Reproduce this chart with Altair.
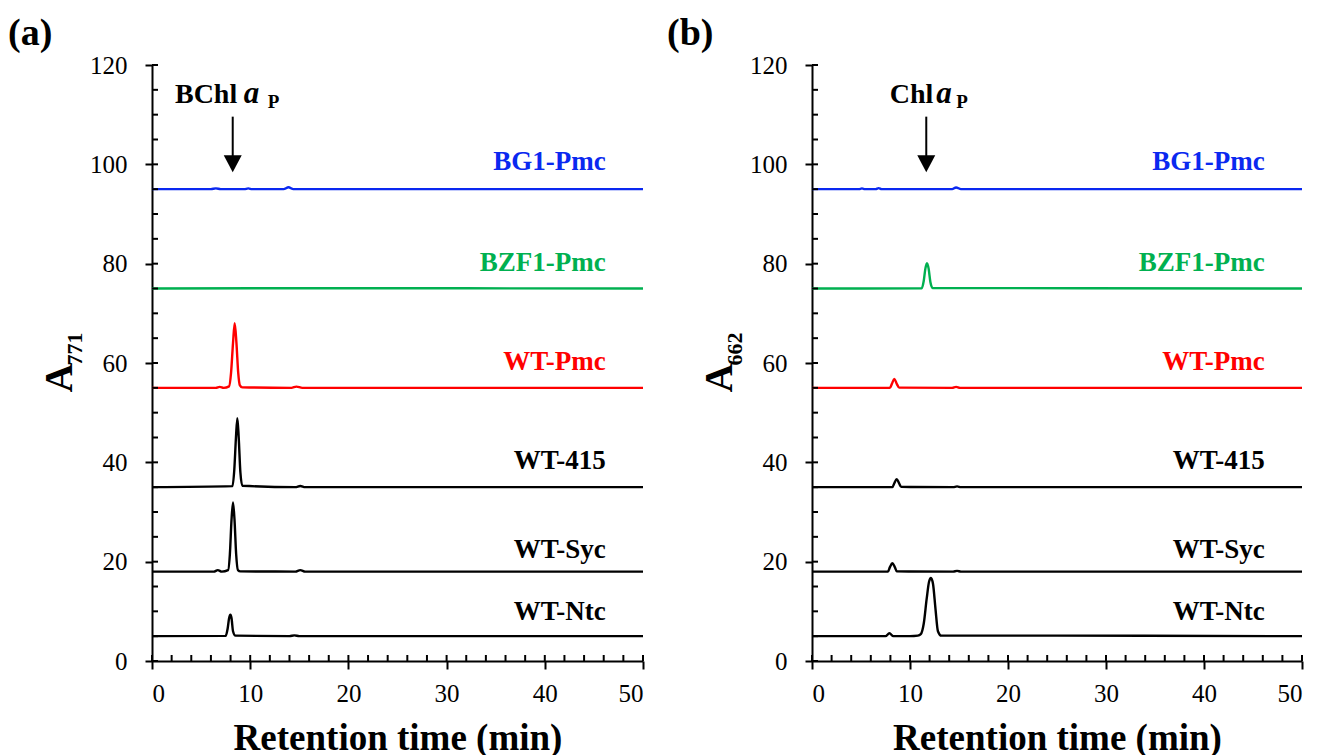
import altair as alt
import pandas as pd

FONT = "Liberation Serif"

series_names = ["BG1-Pmc", "BZF1-Pmc", "WT-Pmc", "WT-415", "WT-Syc", "WT-Ntc"]
series_colors = ["#0a28f0", "#00b050", "#ff0000", "#000000", "#000000", "#000000"]
label_y = [100.5, 80.1, 60.2, 40.2, 22.4, 9.9]
label_x = 46.2

x_ticks = [0, 10, 20, 30, 40, 50]
y_ticks = [0, 20, 40, 60, 80, 100, 120]
x_minor = list(range(0, 51, 2))
y_minor = list(range(0, 121, 5))

# ---------------- panel (a): A771 ----------------
a_bg1_x = [0, 6.0, 6.5, 7.0, 9.4, 9.8, 10.2, 13.4, 13.9, 14.4, 50]
a_bg1_y = [95, 95, 95.15, 95, 95, 95.15, 95, 95, 95.4, 95, 95]
a_bzf_x = [0, 15.0, 50]
a_bzf_y = [75, 75.05, 75]
a_wtp_x = [0, 6.5, 6.9, 7.3, 7.85, 8.05, 8.25, 8.42, 8.6, 8.78, 8.95, 9.2, 14.2, 14.7, 15.3, 50]
a_wtp_y = [55, 55, 55.2, 55, 55.3, 58, 64, 68.0, 64, 58, 55.5, 55.1, 55, 55.25, 55, 55]
a_415_x = [0, 8.2, 8.38, 8.55, 8.69, 8.83, 9.0, 9.2, 14.6, 15.1, 15.6, 50]
a_415_y = [35, 35.2, 38.5, 45, 48.9, 45, 38, 35.3, 35, 35.25, 35, 35]
a_syc_x = [0, 6.3, 6.7, 7.1, 7.75, 7.93, 8.1, 8.25, 8.4, 8.57, 8.75, 9.0, 14.6, 15.1, 15.6, 50]
a_syc_y = [18, 18, 18.3, 18, 18.3, 21.5, 28.5, 31.9, 28.5, 21.5, 18.3, 18.05, 18, 18.3, 18, 18]
a_ntc_x = [0, 7.5, 7.7, 7.85, 7.98, 8.1, 8.25, 8.5, 14.0, 14.5, 15.0, 50]
a_ntc_y = [5, 5.05, 6.5, 8.6, 9.3, 8.6, 6.0, 5.1, 5, 5.15, 5, 5]

# ---------------- panel (b): A662 ----------------
b_bg1_x = [0, 4.8, 5.1, 5.4, 6.5, 6.8, 7.1, 14.3, 14.7, 15.2, 50]
b_bg1_y = [95, 95, 95.15, 95, 95, 95.2, 95, 95, 95.35, 95, 95]
b_bzf_x = [0, 11.2, 11.4, 11.57, 11.73, 11.9, 12.08, 12.3, 50]
b_bzf_y = [75, 75.05, 76.5, 79, 80.1, 79, 76.3, 75.1, 75]
b_wtp_x = [0, 7.95, 8.15, 8.4, 8.65, 8.9, 14.3, 14.7, 15.1, 50]
b_wtp_y = [55, 55, 55.8, 56.8, 55.8, 55.05, 55, 55.2, 55, 55]
b_415_x = [0, 8.2, 8.4, 8.64, 8.88, 9.1, 14.4, 14.8, 15.2, 50]
b_415_y = [35, 35, 35.8, 36.6, 35.8, 35.05, 35, 35.15, 35, 35]
b_syc_x = [0, 7.75, 7.95, 8.2, 8.45, 8.65, 14.4, 14.8, 15.2, 50]
b_syc_y = [18, 18, 18.9, 19.7, 18.9, 18.05, 18, 18.15, 18, 18]
b_ntc_x = [0, 7.5, 7.9, 8.3, 10.0, 10.8, 11.1, 11.4, 11.7, 11.95, 12.14, 12.35, 12.6, 12.85, 13.2, 25, 50]
b_ntc_y = [5, 5, 5.6, 5, 5, 5.1, 5.4, 7.5, 12.5, 16.0, 16.7, 15.5, 10.5, 6.0, 5.1, 5.1, 5]

H = 596

XAXIS = alt.Axis(
    values=x_ticks, format="d", tickSize=8, tickWidth=2, tickColor="black",
    domainWidth=2, domainColor="black", grid=False,
    labelFont=FONT, labelFontSize=25, labelColor="black", labelPadding=12,
    title="Retention time (min)", titleFont=FONT, titleFontSize=37,
    titleFontWeight="bold", titleColor="black", titlePadding=14)
YAXIS = alt.Axis(
    values=y_ticks, format="d", tickSize=7, tickWidth=2, tickColor="black",
    domainWidth=2, domainColor="black", grid=False,
    labelFont=FONT, labelFontSize=25, labelColor="black", labelPadding=18,
    title="")


def traces_df(pairs):
    rows = []
    for name, (xs, ys) in zip(series_names, pairs):
        for i, (xv, yv) in enumerate(zip(xs, ys)):
            rows.append({"series": name, "x": xv, "y": yv, "o": i})
    return pd.DataFrame(rows)


def panel(pairs, width, tag, tag_x, sub, arrow_x, lbl, lbl_dx):
    xs = alt.Scale(domain=[0, 50], nice=False, zero=False)
    ys = alt.Scale(domain=[0, 120], nice=False, zero=False)
    cs = alt.Scale(domain=series_names, range=series_colors)

    def X(f):
        return alt.X(f, scale=xs, axis=XAXIS)

    def Y(f):
        return alt.Y(f, scale=ys, axis=YAXIS)

    df = traces_df(pairs)

    lines = alt.Chart(df).mark_line(strokeWidth=2.4, interpolate="monotone").encode(
        x=X("x:Q"), y=Y("y:Q"),
        color=alt.Color("series:N", scale=cs, legend=None),
        detail="series:N",
        order="o:Q",
    )

    xt = alt.Chart(pd.DataFrame({"x": x_minor})).mark_rule(color="black", strokeWidth=2).encode(
        x=X("x:Q"), y=alt.value(H), y2=alt.value(H - 6))
    yt = alt.Chart(pd.DataFrame({"y": y_minor})).mark_rule(color="black", strokeWidth=2).encode(
        y=Y("y:Q"), x=alt.value(0), x2=alt.value(6))

    ldf = pd.DataFrame({"series": series_names, "x": [label_x] * 6, "y": label_y})
    labels = alt.Chart(ldf).mark_text(
        align="right", baseline="middle", font=FONT, fontSize=27, fontWeight="bold").encode(
        x=X("x:Q"), y=Y("y:Q"),
        text="series:N", color=alt.Color("series:N", scale=cs, legend=None))

    adf = pd.DataFrame({"x": [arrow_x], "y": [109.6], "y2": [101.0], "ty": [100.2], "ay": [112.3]})
    arrow = alt.Chart(adf).mark_rule(color="black", strokeWidth=2).encode(
        x=X("x:Q"), y=Y("y:Q"), y2="y2:Q")
    head = alt.Chart(adf).mark_point(
        shape="M-1,-0.9L1,-0.9L0,1Z", size=324, filled=True, color="black", opacity=1).encode(
        x=X("x:Q"), y=alt.Y("ty:Q", scale=ys, axis=YAXIS))
    t1 = alt.Chart(adf).mark_text(
        align="right", baseline="alphabetic", font=FONT, fontSize=28, fontWeight="bold",
        color="black", dx=lbl_dx[0]).encode(
        x=X("x:Q"), y=alt.Y("ay:Q", scale=ys, axis=YAXIS), text=alt.value(lbl))
    t2 = alt.Chart(adf).mark_text(
        align="left", baseline="alphabetic", font=FONT, fontSize=31, fontWeight="bold",
        fontStyle="italic", color="black", dx=lbl_dx[1]).encode(
        x=X("x:Q"), y=alt.Y("ay:Q", scale=ys, axis=YAXIS), text=alt.value("a"))
    t3 = alt.Chart(adf).mark_text(
        align="left", baseline="alphabetic", font=FONT, fontSize=19, fontWeight="bold",
        color="black", dx=lbl_dx[2], dy=5).encode(
        x=X("x:Q"), y=alt.Y("ay:Q", scale=ys, axis=YAXIS), text=alt.value("P"))

    one = pd.DataFrame({"k": [0]})
    tagm = alt.Chart(one).mark_text(
        align="left", baseline="alphabetic", font=FONT, fontSize=38, fontWeight="bold",
        color="black").encode(x=alt.value(tag_x), y=alt.value(-20), text=alt.value(tag))
    ya = alt.Chart(one).mark_text(
        align="center", baseline="alphabetic", font=FONT, fontSize=40, fontWeight="bold",
        color="black", angle=270).encode(x=alt.value(-80), y=alt.value(313), text=alt.value("A"))
    yb = alt.Chart(one).mark_text(
        align="center", baseline="alphabetic", font=FONT, fontSize=22, fontWeight="bold",
        color="black", angle=270).encode(x=alt.value(-70), y=alt.value(284), text=alt.value(sub))

    return alt.layer(lines, xt, yt, labels, arrow, head, t1, t2, t3, tagm, ya, yb).properties(
        width=width, height=H)


pa = panel([(a_bg1_x, a_bg1_y), (a_bzf_x, a_bzf_y), (a_wtp_x, a_wtp_y),
            (a_415_x, a_415_y), (a_syc_x, a_syc_y), (a_ntc_x, a_ntc_y)],
           491, "(a)", -144, "771", 8.22, "BChl", (4.5, 11, 35))
pb = panel([(b_bg1_x, b_bg1_y), (b_bzf_x, b_bzf_y), (b_wtp_x, b_wtp_y),
            (b_415_x, b_415_y), (b_syc_x, b_syc_y), (b_ntc_x, b_ntc_y)],
           490, "(b)", -145, "662", 11.66, "Chl", (7, 10, 30))

chart = alt.hconcat(pa, pb, spacing=19).properties(
    padding={"left": 0, "top": 7, "right": 0, "bottom": 0}
).configure_view(stroke=None).resolve_scale(color="independent")

chart.save("out.html", embed_options={"renderer": "svg", "actions": False})
